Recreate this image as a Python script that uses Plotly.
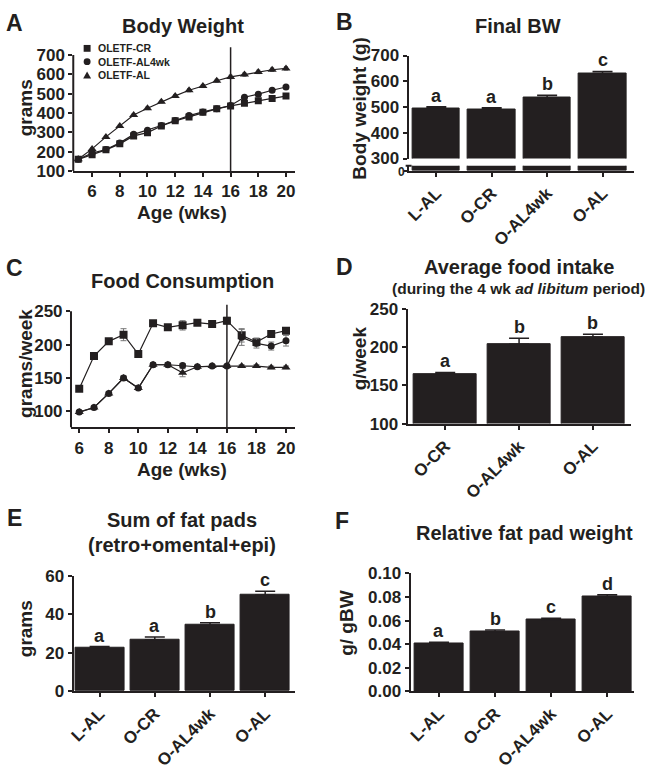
import plotly.graph_objects as go

# ---------------- data ----------------
weeks_bw = [5, 6, 7, 8, 9, 10, 11, 12, 13, 14, 15, 16, 17, 18, 19, 20]
bw_cr = [160, 184, 209, 240, 281, 298, 332, 359, 379, 403, 421, 436, 450, 463, 475, 487]
bw_cr_err = [3, 4, 4, 5, 5, 5, 5, 6, 6, 6, 6, 6, 6, 7, 7, 7]
bw_al4 = [160, 192, 211, 245, 289, 310, 335, 361, 386, 405, 421, 438, 481, 497, 517, 534]
bw_al4_err = [3, 4, 4, 5, 5, 5, 5, 6, 6, 6, 6, 6, 7, 7, 8, 8]
bw_al = [160, 214, 276, 332, 389, 424, 458, 488, 517, 539, 566, 586, 598, 612, 623, 630]
bw_al_err = [3, 5, 6, 6, 7, 7, 7, 7, 8, 8, 8, 9, 9, 9, 9, 9]
bw_names = ["OLETF-CR", "OLETF-AL4wk", "OLETF-AL"]

weeks_fc = [6, 7, 8, 9, 10, 11, 12, 13, 14, 15, 16, 17, 18, 19, 20]
fc_sq = [134, 183, 205, 215, 186, 232, 226, 229, 233, 231, 236, 214, 204, 216, 221]
fc_sq_err = [3, 3, 4, 9, 3, 3, 4, 7, 4, 4, 5, 10, 6, 4, 4]
fc_circ = [99, 106, 127, 150, 135, 170, 170, 169, 167, 168, 168, 211, 202, 198, 206]
fc_circ_err = [2, 2, 2, 3, 2, 3, 3, 3, 2, 2, 2, 12, 7, 6, 8]
fc_tri = [99, 106, 127, 150, 135, 170, 170, 158, 167, 168, 168, 168, 168, 166, 166]
fc_tri_err = [2, 2, 2, 3, 2, 3, 3, 6, 2, 2, 2, 2, 2, 2, 2]

groups4 = ["L-AL", "O-CR", "O-AL4wk", "O-AL"]
groups3 = ["O-CR", "O-AL4wk", "O-AL"]

final_bw = [496, 492, 537, 630]
final_bw_err = [5, 5, 9, 8]
final_bw_letters = ["a", "a", "b", "c"]

food_avg = [165, 204, 213]
food_avg_err = [2, 8, 4]
food_avg_letters = ["a", "b", "b"]

fat_sum = [22.6, 26.7, 34.3, 50.0]
fat_sum_err = [0.6, 1.4, 1.3, 2.0]
fat_sum_letters = ["a", "a", "b", "c"]

fat_rel = [0.0405, 0.0505, 0.0605, 0.0805]
fat_rel_err = [0.001, 0.0015, 0.0015, 0.0015]
fat_rel_letters = ["a", "b", "c", "d"]

# ---------------- helpers ----------------
W, H = 650, 774
def px(x):
    return x / W
def py(y):
    return 1 - y / H

FONT = "Liberation Sans, Arial, Helvetica, sans-serif"
INK = "#231f20"

def fnt(size, weight="bold"):
    return dict(family=FONT, size=size, color=INK, weight=weight)

def ax(**kw):
    d = dict(showgrid=False, zeroline=False, showline=True, linecolor=INK, linewidth=2,
             ticks="outside", ticklen=4, tickwidth=2, tickcolor=INK,
             tickfont=fnt(17), fixedrange=True)
    d.update(kw)
    return d

fig = go.Figure()

# ---------------- A: body weight ----------------
for vals, errs, sym, name, msize in [(bw_cr, bw_cr_err, "square", bw_names[0], 7),
                                     (bw_al4, bw_al4_err, "circle", bw_names[1], 7),
                                     (bw_al, bw_al_err, "triangle-up", bw_names[2], 8)]:
    fig.add_trace(go.Scatter(x=weeks_bw, y=vals, name=name, mode="lines+markers",
                             line=dict(color=INK, width=1.2),
                             marker=dict(symbol=sym, size=msize, color=INK),
                             error_y=dict(type="data", array=errs, color="#777", thickness=1, width=2),
                             xaxis="x", yaxis="y", showlegend=False))

# ---------------- B: final BW (broken axis) ----------------
for xa, ya, witherr in [("x2", "y2", True), ("x3", "y3", False)]:
    fig.add_trace(go.Bar(x=groups4, y=final_bw, width=0.857,
                         marker=dict(color=INK, line=dict(color=INK, width=1)),
                         error_y=dict(type="data", symmetric=False, array=final_bw_err,
                                      arrayminus=[0] * 4, color=INK, thickness=1.5, width=10,
                                      visible=witherr),
                         xaxis=xa, yaxis=ya, showlegend=False))

# ---------------- C: food consumption ----------------
for vals, errs, sym, msize in [(fc_sq, fc_sq_err, "square", 8),
                               (fc_tri, fc_tri_err, "triangle-up", 8),
                               (fc_circ, fc_circ_err, "circle", 7)]:
    fig.add_trace(go.Scatter(x=weeks_fc, y=vals, mode="lines+markers",
                             line=dict(color=INK, width=1.2),
                             marker=dict(symbol=sym, size=msize, color=INK),
                             error_y=dict(type="data", array=errs, color="#777", thickness=1, width=3),
                             xaxis="x4", yaxis="y4", showlegend=False))

# ---------------- D, E, F bars ----------------
for cats, vals, errs, xa, ya, bw in [(groups3, food_avg, food_avg_err, "x5", "y5", 0.857),
                                     (groups4, fat_sum, fat_sum_err, "x6", "y6", 0.887),
                                     (groups4, fat_rel, fat_rel_err, "x7", "y7", 0.88)]:
    fig.add_trace(go.Bar(x=cats, y=vals, width=bw,
                         marker=dict(color=INK, line=dict(color=INK, width=1)),
                         error_y=dict(type="data", symmetric=False, array=errs,
                                      arrayminus=[0] * len(vals), color=INK, thickness=1.5, width=10),
                         xaxis=xa, yaxis=ya, showlegend=False))

# ---------------- axes ----------------
layout_axes = dict(
    xaxis=ax(domain=[px(68), px(292)], range=[4.64, 20.64], tickvals=[6, 8, 10, 12, 14, 16, 18, 20], anchor="y"),
    yaxis=ax(domain=[py(166), py(39.1)], range=[100, 740], tickvals=[100, 200, 300, 400, 500, 600, 700],
             showline=False, anchor="x"),
    xaxis2=ax(domain=[px(407), px(635)], range=[-0.5, 3.571], type="category", showline=False,
              showticklabels=False, ticks="", anchor="y2"),
    yaxis2=ax(domain=[py(153.3), py(47.7)], range=[300, 700], tickvals=[300, 400, 500, 600, 700], anchor="x2"),
    xaxis3=ax(domain=[px(407), px(635)], range=[-0.5, 3.571], type="category", tickangle=-45, anchor="y3"),
    yaxis3=ax(domain=[py(165.7), py(160.7)], range=[0, 30], tickvals=[0], ticklen=3,
              showticklabels=False, anchor="x3"),
    xaxis4=ax(domain=[px(65.7), px(291.7)], range=[5.443, 20.58], tickvals=[6, 8, 10, 12, 14, 16, 18, 20], anchor="y4"),
    yaxis4=ax(domain=[py(429), py(303.1)], range=[76, 260], tickvals=[100, 150, 200, 250], showline=False, anchor="x4"),
    xaxis5=ax(domain=[px(406), px(631.7)], range=[-0.509, 2.514], type="category", tickangle=-45, anchor="y5"),
    yaxis5=ax(domain=[py(425), py(307.7)], range=[100, 250], tickvals=[100, 150, 200, 250], anchor="x5"),
    xaxis6=ax(domain=[px(68.3), px(291.7)], range=[-0.472, 3.532], type="category", tickangle=-45, anchor="y6"),
    yaxis6=ax(domain=[py(699.3), py(581)], range=[0, 60], tickvals=[0, 20, 40, 60], anchor="x6"),
    xaxis7=ax(domain=[px(409), px(635)], range=[-0.506, 3.48], type="category", tickangle=-45, anchor="y7"),
    yaxis7=ax(domain=[py(699.3), py(578.7)], range=[0, 0.10], tickvals=[0, 0.02, 0.04, 0.06, 0.08, 0.10],
              tickformat=".2f", anchor="x7"),
)

shapes = [
    # y-axis lines for line charts (axis stops at top tick)
    dict(type="line", xref="x domain", yref="y", x0=0, x1=0, y0=100, y1=700, line=dict(color=INK, width=2)),
    dict(type="line", xref="x4 domain", yref="y4", x0=0, x1=0, y0=76, y1=250, line=dict(color=INK, width=2)),
    # vertical markers at week 16
    dict(type="line", xref="x", yref="y domain", x0=16, x1=16, y0=0, y1=1, line=dict(color=INK, width=1.5)),
    dict(type="line", xref="x4", yref="y4 domain", x0=16, x1=16, y0=0, y1=1, line=dict(color=INK, width=1.5)),
    # break tick on B lower segment
    dict(type="line", xref="paper", yref="paper", x0=px(404), x1=px(410), y0=py(160.7), y1=py(160.7),
         line=dict(color=INK, width=2)),
]

# legend for A: one multi-line text block + symbol shapes aligned to its rows
leg_font = 10.5
leg_mid = 54
row_h = leg_font * 1.3
rows_y = [leg_mid - row_h, leg_mid, leg_mid + row_h]
lx = 82
shapes.append(dict(type="rect", xref="paper", yref="paper", x0=px(lx - 3.5), x1=px(lx + 3.5),
                   y0=py(rows_y[0] + 3.5), y1=py(rows_y[0] - 3.5), fillcolor=INK, line=dict(width=0)))
shapes.append(dict(type="circle", xref="paper", yref="paper", x0=px(lx - 3.5), x1=px(lx + 3.5),
                   y0=py(rows_y[1] + 3.5), y1=py(rows_y[1] - 3.5), fillcolor=INK, line=dict(width=0)))
shapes.append(dict(type="path", xref="paper", yref="paper",
                   path=f"M {px(lx-4)} {py(rows_y[2]+3.5)} L {px(lx+4)} {py(rows_y[2]+3.5)} L {px(lx)} {py(rows_y[2]-3.5)} Z",
                   fillcolor=INK, line=dict(width=0)))

annotations = []
def ann(text, x, y, size, angle=0, weight="bold", xanchor="center", align="center"):
    annotations.append(dict(text=text, x=px(x), y=py(y), xref="paper", yref="paper",
                            showarrow=False, font=fnt(size, weight), textangle=angle,
                            xanchor=xanchor, yanchor="middle", borderpad=0, align=align))

ann("<br>".join(bw_names), 92, leg_mid, leg_font, xanchor="left", align="left")

# "0" label of the lower (broken) segment in B
ann("0", 400, 167, 12)

# panel letters
ann("A", 9, 14, 23); ann("B", 342, 13, 23); ann("C", 9, 266, 23)
ann("D", 342, 264, 23); ann("E", 9, 522, 23); ann("F", 340, 525, 23)

# titles
ann("Body Weight", 179, 17, 20)
ann("Final BW", 518, 17, 20)
ann("Food Consumption", 178, 279, 20)
ann("Average food intake", 519, 265, 20)
ann("(during the 4 wk <i>ad libitum</i> period)", 518, 287, 15.5)
ann("Sum of fat pads", 178, 524, 20)
ann("(retro+omental+epi)", 178, 549, 20)
ann("Relative fat pad weight", 524, 537, 20)

# axis titles
ann("grams", 20, 101, 19, angle=-90)
ann("Age (wks)", 178, 209, 19)
ann("Body weight (g)", 357, 102, 19, angle=-90)
ann("grams/week", 19, 363, 19, angle=-90)
ann("Age (wks)", 178, 472, 19)
ann("g/week", 357, 358, 19, angle=-90)
ann("grams", 20, 635, 19, angle=-90)
ann("g/ gBW", 344, 630, 19, angle=-90)

# significance letters
for cats, vals, errs, letters, xa, ya in [(groups4, final_bw, final_bw_err, final_bw_letters, "x2", "y2"),
                                          (groups3, food_avg, food_avg_err, food_avg_letters, "x5", "y5"),
                                          (groups4, fat_sum, fat_sum_err, fat_sum_letters, "x6", "y6"),
                                          (groups4, fat_rel, fat_rel_err, fat_rel_letters, "x7", "y7")]:
    for c, v, e, l in zip(cats, vals, errs, letters):
        annotations.append(dict(text=l, x=c, y=v + e, xref=xa, yref=ya, showarrow=False,
                                font=fnt(18), xanchor="center", yanchor="bottom", yshift=-1))

fig.update_layout(
    width=W, height=H, margin=dict(l=0, r=0, t=0, b=0),
    paper_bgcolor="white", plot_bgcolor="white",
    font=dict(family=FONT, color=INK),
    bargap=0, showlegend=False,
    shapes=shapes, annotations=annotations,
    **layout_axes,
)

fig.write_html("out.html", config={"displayModeBar": False},
               post_script="document.body.style.margin='0';document.body.style.overflow='hidden';")
